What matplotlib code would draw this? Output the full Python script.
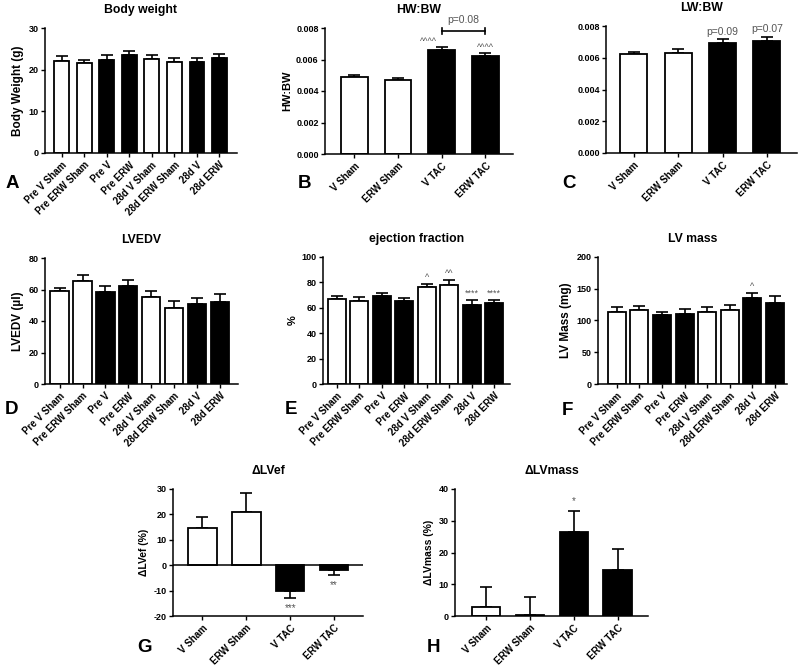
import numpy as np
import matplotlib
matplotlib.use("Agg")
import matplotlib.pyplot as plt

plt.rcParams['font.family'] = ['Liberation Sans', 'DejaVu Sans']
plt.rcParams['font.weight'] = 'bold'
plt.rcParams['axes.unicode_minus'] = False

# ---- data ----
groups8 = ['Pre V Sham', 'Pre ERW Sham', 'Pre V', 'Pre ERW',
           '28d V Sham', '28d ERW Sham', '28d V', '28d ERW']
fill8 = ['white', 'white', 'black', 'black', 'white', 'white', 'black', 'black']
groups4 = ['V Sham', 'ERW Sham', 'V TAC', 'ERW TAC']
fill4 = ['white', 'white', 'black', 'black']

bw_mean = [22.0, 21.5, 22.3, 23.5, 22.5, 21.8, 21.8, 22.7]
bw_err = [1.2, 0.9, 1.1, 1.0, 1.1, 0.9, 1.0, 1.0]

hwbw_mean = [0.00490, 0.00472, 0.00662, 0.00620]
hwbw_err = [0.00012, 0.00012, 0.00017, 0.00020]

lwbw_mean = [0.00622, 0.00632, 0.00690, 0.00703]
lwbw_err = [0.00015, 0.00022, 0.00025, 0.00030]

lvedv_mean = [59.0, 65.5, 58.5, 62.5, 55.0, 48.0, 50.5, 52.0]
lvedv_err = [2.0, 3.5, 3.5, 3.5, 4.0, 5.0, 4.0, 5.0]

ef_mean = [67.0, 65.5, 69.0, 65.0, 76.0, 78.0, 62.5, 63.5]
ef_err = [2.0, 3.0, 2.5, 2.5, 2.5, 3.5, 3.5, 2.5]

lvm_mean = [113, 117, 108, 110, 114, 117, 136, 127]
lvm_err = [9, 6, 6, 8, 8, 8, 7, 11]

dlvef_mean = [14.5, 21.0, -10.0, -2.0]
dlvef_err = [4.5, 7.5, 3.0, 1.7]

dlvm_mean = [2.8, 0.4, 26.5, 14.5]
dlvm_err = [6.3, 5.5, 6.5, 6.5]

W, H = 800, 669
fig = plt.figure(figsize=(W / 100, H / 100), dpi=100)
grey = '#555555'


def make_ax(x0, x1, y0, y1):
    return fig.add_axes([x0 / W, 1 - y1 / H, (x1 - x0) / W, (y1 - y0) / H])


def bar_panel(ax, labels, means, errs, fills, width, xlim, ylim, yticks,
              title, ylabel, fmt=None, ylab_size=8.5):
    x = np.arange(len(labels))
    ax.bar(x, means, width=width, color=fills, edgecolor='black', linewidth=1.3, zorder=2)
    # one-sided error bars (away from zero), like GraphPad
    up = [e if m >= 0 else 0 for m, e in zip(means, errs)]
    dn = [e if m < 0 else 0 for m, e in zip(means, errs)]
    ax.errorbar(x, means, yerr=[dn, up], fmt='none', ecolor='black',
                elinewidth=1.2, capsize=4, capthick=1.2, zorder=1)
    ax.set_xlim(*xlim)
    ax.set_ylim(*ylim)
    ax.set_yticks(yticks)
    if fmt:
        ax.set_yticklabels([fmt.format(t) for t in yticks])
    ax.set_xticks(x)
    ax.set_xticklabels(labels, rotation=45, ha='right', rotation_mode='anchor')
    ax.tick_params(axis='x', labelsize=7, length=3, width=1, pad=2)
    ax.tick_params(axis='y', labelsize=6.5, length=3, width=1, pad=1.5)
    ax.spines['top'].set_visible(False)
    ax.spines['right'].set_visible(False)
    ax.spines['left'].set_linewidth(1.1)
    ax.spines['bottom'].set_linewidth(1.1)
    ax.set_title(title, fontsize=8.8, fontweight='bold', pad=11)
    ax.set_ylabel(ylabel, fontsize=ylab_size, fontweight='bold', labelpad=3)
    return x


# A
axA = make_ax(45, 237, 28, 153)
bar_panel(axA, groups8, bw_mean, bw_err, fill8, 0.65, (-0.74, 7.78), (0, 30),
          [0, 10, 20, 30], 'Body weight', 'Body Weight (g)')

# B
axB = make_ax(325, 513, 28, 154)
bar_panel(axB, groups4, hwbw_mean, hwbw_err, fill4, 0.61, (-0.67, 3.63),
          (0, 0.008), [0, 0.002, 0.004, 0.006, 0.008], 'HW:BW', 'HW:BW',
          fmt='{:.3f}', ylab_size=8)
for i in (2, 3):
    axB.text(i - 0.3 if i == 2 else i, hwbw_mean[i] + hwbw_err[i] + 0.00006, '^^^^',
             ha='center', va='bottom', fontsize=6.5, color=grey, fontweight='normal')
axB.plot([2, 3], [0.0078, 0.0078], color='black', lw=1.2, clip_on=False)
axB.plot([2, 2], [0.0076, 0.0080], color='black', lw=1.2, clip_on=False)
axB.plot([3, 3], [0.0076, 0.0080], color='black', lw=1.2, clip_on=False)
axB.text(2.5, 0.0082, 'p=0.08', ha='center', va='bottom', fontsize=7.5,
         color=grey, fontweight='normal')

# C
axC = make_ax(606, 797, 26, 153)
bar_panel(axC, groups4, lwbw_mean, lwbw_err, fill4, 0.61, (-0.63, 3.68),
          (0, 0.008), [0, 0.002, 0.004, 0.006, 0.008], 'LW:BW', '', fmt='{:.3f}')
for i, t in zip((2, 3), ('p=0.09', 'p=0.07')):
    axC.text(i, lwbw_mean[i] + lwbw_err[i] + 0.00015, t, ha='center', va='bottom',
             fontsize=7.5, color=grey, fontweight='normal')

# D
axD = make_ax(45, 238, 258, 384)
bar_panel(axD, groups8, lvedv_mean, lvedv_err, fill8, 0.8, (-0.64, 7.79), (0, 80),
          [0, 20, 40, 60, 80], 'LVEDV', 'LVEDV (\u00b5l)')

# E
axE = make_ax(323, 510, 257, 384)
bar_panel(axE, groups8, ef_mean, ef_err, fill8, 0.8, (-0.6, 7.7), (0, 100),
          [0, 20, 40, 60, 80, 100], 'ejection fraction', '%', ylab_size=8)
for i, t in zip((4, 5, 6, 7), ('^', '^^', '****', '****')):
    axE.text(i, ef_mean[i] + ef_err[i] + 2, t, ha='center', va='bottom',
             fontsize=6.5, color=grey, fontweight='normal')

# F
axF = make_ax(598, 787, 257, 384)
bar_panel(axF, groups8, lvm_mean, lvm_err, fill8, 0.8, (-0.83, 7.53), (0, 200),
          [0, 50, 100, 150, 200], 'LV mass', 'LV Mass (mg)')
axF.text(6, lvm_mean[6] + lvm_err[6] + 4, '^', ha='center', va='bottom',
         fontsize=6.5, color=grey, fontweight='normal')

# G
axG = make_ax(173, 363, 489, 616)
bar_panel(axG, groups4, dlvef_mean, dlvef_err, fill4, 0.65, (-0.67, 3.66), (-20, 30),
          [-20, -10, 0, 10, 20, 30], '\u0394LVef', '\u0394LVef (%)', ylab_size=7.5)
axG.axhline(0, color='black', lw=1.1, zorder=3)
for i, t in zip((2, 3), ('***', '**')):
    axG.text(i, dlvef_mean[i] - dlvef_err[i] - 2, t, ha='center', va='top',
             fontsize=7, color=grey, fontweight='normal')

# H
axH = make_ax(455, 648, 489, 616)
bar_panel(axH, groups4, dlvm_mean, dlvm_err, fill4, 0.65, (-0.71, 3.69), (0, 40),
          [0, 10, 20, 30, 40], '\u0394LVmass', '\u0394LVmass (%)', ylab_size=7.5)
axH.text(2, dlvm_mean[2] + dlvm_err[2] + 1.5, '*', ha='center', va='bottom',
         fontsize=7, color=grey, fontweight='normal')

# panel letters
letter_pos = [(6, 188), (298, 188), (562, 188), (5, 414),
              (285, 414), (562, 415), (137, 652), (427, 652)]
for letter, (px, py) in zip('ABCDEFGH', letter_pos):
    fig.text(px / W, 1 - py / H, letter, fontsize=13.5, fontweight='bold',
             ha='left', va='baseline')

fig.savefig('out.png', dpi=100)
